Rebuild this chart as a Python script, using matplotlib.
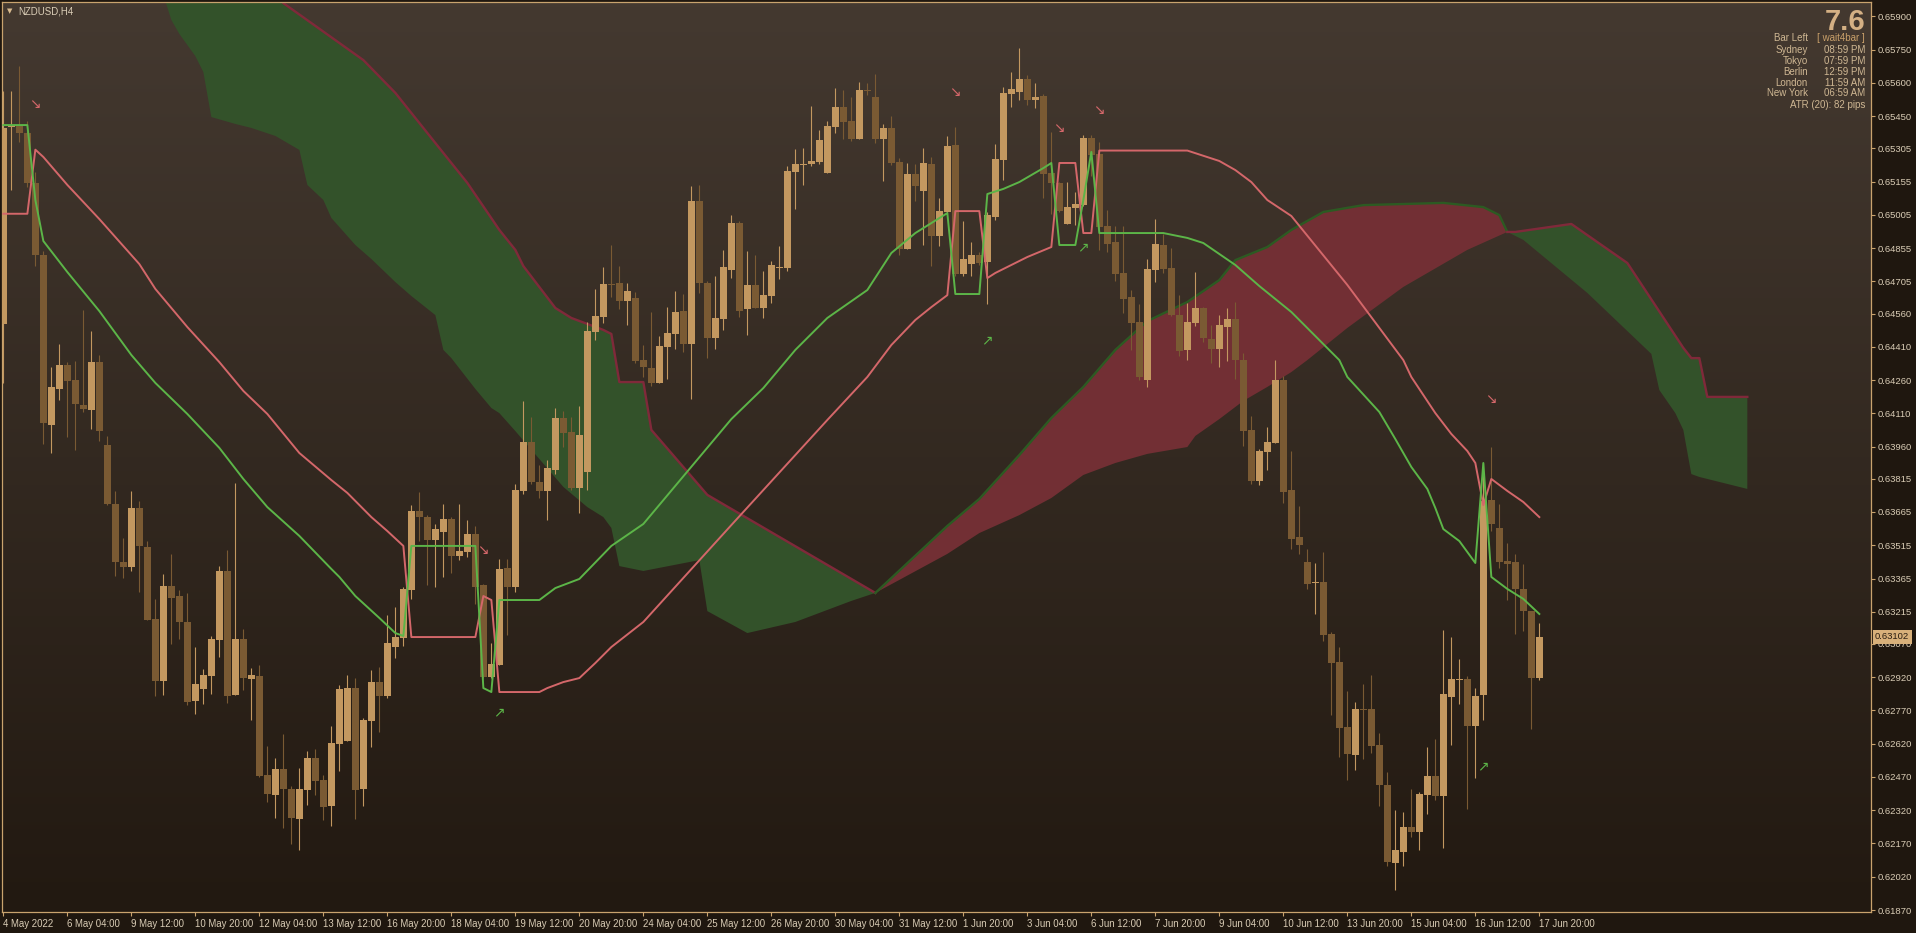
"""NZDUSD H4 chart: candles, Ichimoku cloud, trailing lines and a session panel."""
import matplotlib

matplotlib.use("Agg")
import matplotlib.pyplot as plt
import matplotlib.transforms as mtransforms
import numpy as np
from matplotlib.colors import LinearSegmentedColormap

plt.rcParams["font.family"] = ["Liberation Sans", "DejaVu Sans"]

W, H = 1916, 933

COLORS = {
    "panel": "#1f170f",
    "bg_top": "#443930",
    "bg_bottom": "#221911",
    "frame": "#c9a36e",
    "bull": "#c39860",
    "bear": "#7a5a33",
    "pink": "#d4676a",
    "green": "#5cb548",
    "cloud_green": "#33522a",
    "cloud_red": "#722f34",
    "edge_red": "#80293a",
    "edge_green": "#2c5a22",
    "text": "#dacdb6",
    "info": "#cfb793",
    "big": "#d4b084",
}

# ---- price bars (H4) ----
bar_open = [
    0.64513, 0.65401, 0.65410, 0.65374, 0.65149, 0.64824, 0.64057, 0.64220, 0.64328, 0.64260,
    0.64147, 0.64125, 0.64341, 0.63967, 0.63701, 0.63439, 0.63417, 0.63683, 0.63507, 0.63182,
    0.62903, 0.63331, 0.63286, 0.63169, 0.62813, 0.62867, 0.62925, 0.63088, 0.63399, 0.62840,
    0.63092, 0.62912, 0.62925, 0.62479, 0.62388, 0.62506, 0.62416, 0.62280, 0.62411, 0.62555,
    0.62456, 0.62339, 0.62619, 0.62632, 0.62871, 0.62416, 0.62722, 0.62898, 0.62835, 0.63056,
    0.63097, 0.63313, 0.63669, 0.63642, 0.63539, 0.63575, 0.63633, 0.63466, 0.63485, 0.63566,
    0.63336, 0.62921, 0.62975, 0.63412, 0.63327, 0.63760, 0.63981, 0.63800, 0.63760, 0.63854,
    0.64089, 0.64026, 0.63773, 0.63845, 0.64477, 0.64544, 0.64693, 0.64698, 0.64616, 0.64630,
    0.64350, 0.64314, 0.64247, 0.64409, 0.64468, 0.64571, 0.64423, 0.65068, 0.64698, 0.64450,
    0.64535, 0.64756, 0.64968, 0.64580, 0.64689, 0.64585, 0.64639, 0.64765, 0.64765, 0.65198,
    0.65230, 0.65234, 0.65243, 0.65194, 0.65401, 0.65491, 0.65428, 0.65347, 0.65568, 0.65537,
    0.65347, 0.65397, 0.65243, 0.64851, 0.65189, 0.65113, 0.65234, 0.64910, 0.65018, 0.65320,
    0.64738, 0.64783, 0.64824, 0.64792, 0.64995, 0.65252, 0.65550, 0.65559, 0.65618, 0.65523,
    0.65541, 0.65194, 0.65149, 0.64964, 0.65036, 0.65050, 0.65352, 0.65280, 0.64955, 0.64883,
    0.64743, 0.64635, 0.64522, 0.64260, 0.64756, 0.64869, 0.64765, 0.64553, 0.64396, 0.64517,
    0.64585, 0.64445, 0.64400, 0.64499, 0.64535, 0.64350, 0.64035, 0.63805, 0.63936, 0.63976,
    0.64260, 0.63764, 0.63552, 0.63439, 0.63345, 0.63349, 0.63115, 0.62988, 0.62695, 0.62569,
    0.62776, 0.62776, 0.62614, 0.62434, 0.62082, 0.62132, 0.62244, 0.62222, 0.62388, 0.62474,
    0.62384, 0.62831, 0.62907, 0.62912, 0.62700, 0.62840, 0.63719, 0.63593, 0.63444, 0.63439,
    0.63318, 0.63218, 0.62916,
]
bar_high = [
    0.65564, 0.65564, 0.65676, 0.65428, 0.65198, 0.64842, 0.64319, 0.64423, 0.64341, 0.64346,
    0.64576, 0.64481, 0.64373, 0.64008, 0.63760, 0.63548, 0.63760, 0.63715, 0.63534, 0.63273,
    0.63385, 0.63476, 0.63313, 0.63300, 0.63056, 0.62957, 0.63106, 0.63421, 0.63494, 0.63796,
    0.63137, 0.62961, 0.62975, 0.62610, 0.62555, 0.62664, 0.62429, 0.62510, 0.62587, 0.62596,
    0.62479, 0.62700, 0.62885, 0.62930, 0.62916, 0.62736, 0.62952, 0.62966, 0.63200, 0.63236,
    0.63327, 0.63696, 0.63755, 0.63651, 0.63611, 0.63701, 0.63642, 0.63701, 0.63629, 0.63602,
    0.63340, 0.63074, 0.63453, 0.63453, 0.63791, 0.64166, 0.64093, 0.63877, 0.63899, 0.64134,
    0.64120, 0.64093, 0.64143, 0.64522, 0.64671, 0.64770, 0.64869, 0.64774, 0.64698, 0.64657,
    0.64418, 0.64567, 0.64459, 0.64589, 0.64662, 0.64648, 0.65135, 0.65140, 0.64707, 0.64729,
    0.64847, 0.65004, 0.64977, 0.64842, 0.64824, 0.64752, 0.64797, 0.64864, 0.65225, 0.65302,
    0.65307, 0.65496, 0.65388, 0.65428, 0.65577, 0.65568, 0.65537, 0.65604, 0.65600, 0.65640,
    0.65415, 0.65451, 0.65261, 0.65239, 0.65234, 0.65307, 0.65266, 0.65081, 0.65361, 0.65401,
    0.64977, 0.64883, 0.64837, 0.65018, 0.65325, 0.65582, 0.65649, 0.65758, 0.65636, 0.65600,
    0.65550, 0.65379, 0.65153, 0.65153, 0.65108, 0.65365, 0.65365, 0.65334, 0.65027, 0.64955,
    0.64955, 0.64666, 0.64603, 0.64806, 0.64986, 0.64919, 0.64856, 0.64643, 0.64607, 0.64747,
    0.64589, 0.64508, 0.64553, 0.64585, 0.64612, 0.64382, 0.64098, 0.63949, 0.64048, 0.64350,
    0.64278, 0.63940, 0.63692, 0.63498, 0.63435, 0.63485, 0.63124, 0.63056, 0.62858, 0.62808,
    0.62889, 0.62930, 0.62668, 0.62492, 0.62321, 0.62312, 0.62416, 0.62402, 0.62605, 0.62641,
    0.63133, 0.63101, 0.63002, 0.62925, 0.62871, 0.63886, 0.63958, 0.63701, 0.63525, 0.63476,
    0.63430, 0.63220, 0.63164,
]
bar_low = [
    0.64247, 0.65117, 0.65334, 0.65131, 0.64774, 0.63972, 0.63931, 0.64170, 0.64003, 0.63944,
    0.64116, 0.64039, 0.63985, 0.63696, 0.63376, 0.63367, 0.63399, 0.63304, 0.63176, 0.62835,
    0.62840, 0.63070, 0.63092, 0.62795, 0.62754, 0.62799, 0.62844, 0.63011, 0.62804, 0.62838,
    0.62862, 0.62727, 0.62470, 0.62357, 0.62285, 0.62240, 0.62168, 0.62141, 0.62344, 0.62388,
    0.62276, 0.62249, 0.62497, 0.62630, 0.62280, 0.62339, 0.62605, 0.62673, 0.62826, 0.63006,
    0.63061, 0.63273, 0.63534, 0.63336, 0.63327, 0.63372, 0.63390, 0.63448, 0.63462, 0.63250,
    0.62916, 0.62916, 0.62973, 0.63110, 0.63304, 0.63746, 0.63791, 0.63728, 0.63629, 0.63836,
    0.63958, 0.63764, 0.63660, 0.63764, 0.64441, 0.64517, 0.64635, 0.64580, 0.64508, 0.64337,
    0.64274, 0.64233, 0.64245, 0.64265, 0.64400, 0.64387, 0.64175, 0.64653, 0.64359, 0.64400,
    0.64486, 0.64720, 0.64544, 0.64463, 0.64583, 0.64540, 0.64607, 0.64716, 0.64752, 0.65031,
    0.65140, 0.65225, 0.65234, 0.65192, 0.65374, 0.65347, 0.65338, 0.65345, 0.65546, 0.65329,
    0.65158, 0.65230, 0.64824, 0.64849, 0.65068, 0.64869, 0.64774, 0.64865, 0.65013, 0.64729,
    0.64729, 0.64729, 0.64779, 0.64603, 0.64982, 0.65162, 0.65491, 0.65523, 0.65500, 0.65487,
    0.65081, 0.65009, 0.65018, 0.64962, 0.64959, 0.65045, 0.65180, 0.64847, 0.64837, 0.64707,
    0.64562, 0.64396, 0.64260, 0.64229, 0.64702, 0.64743, 0.64551, 0.64368, 0.64350, 0.64504,
    0.64432, 0.64337, 0.64319, 0.64346, 0.64265, 0.63963, 0.63791, 0.63787, 0.63854, 0.63974,
    0.63706, 0.63498, 0.63476, 0.63318, 0.63205, 0.63083, 0.62749, 0.62560, 0.62456, 0.62501,
    0.62551, 0.62578, 0.62339, 0.62068, 0.61960, 0.62068, 0.62199, 0.62141, 0.62303, 0.62366,
    0.62150, 0.62614, 0.62799, 0.62325, 0.62465, 0.62727, 0.63579, 0.63412, 0.63268, 0.63115,
    0.63128, 0.62686, 0.62907,
]
bar_close = [
    0.65397, 0.65406, 0.65374, 0.65149, 0.64824, 0.64066, 0.64229, 0.64328, 0.64256, 0.64152,
    0.64129, 0.64341, 0.64030, 0.63701, 0.63439, 0.63417, 0.63683, 0.63512, 0.63178, 0.62903,
    0.63331, 0.63277, 0.63169, 0.62808, 0.62889, 0.62930, 0.63092, 0.63399, 0.62835, 0.63092,
    0.62916, 0.62930, 0.62474, 0.62393, 0.62506, 0.62416, 0.62285, 0.62416, 0.62555, 0.62452,
    0.62334, 0.62623, 0.62867, 0.62871, 0.62411, 0.62727, 0.62898, 0.62835, 0.63074, 0.63101,
    0.63318, 0.63669, 0.63642, 0.63539, 0.63588, 0.63633, 0.63466, 0.63489, 0.63566, 0.63327,
    0.62921, 0.62979, 0.63408, 0.63327, 0.63764, 0.63981, 0.63800, 0.63760, 0.63863, 0.64089,
    0.64021, 0.63773, 0.64012, 0.64481, 0.64549, 0.64693, 0.64689, 0.64616, 0.64662, 0.64346,
    0.64319, 0.64247, 0.64414, 0.64472, 0.64567, 0.64423, 0.65068, 0.64698, 0.64450, 0.64540,
    0.64770, 0.64968, 0.64571, 0.64689, 0.64585, 0.64643, 0.64779, 0.64770, 0.65203, 0.65234,
    0.65234, 0.65248, 0.65343, 0.65406, 0.65491, 0.65424, 0.65347, 0.65568, 0.65564, 0.65347,
    0.65397, 0.65239, 0.64851, 0.65189, 0.65135, 0.65239, 0.64910, 0.65022, 0.65316, 0.64738,
    0.64806, 0.64824, 0.64788, 0.65004, 0.65257, 0.65555, 0.65573, 0.65618, 0.65523, 0.65537,
    0.65189, 0.65149, 0.65022, 0.65040, 0.65054, 0.65352, 0.65275, 0.64950, 0.64874, 0.64738,
    0.64626, 0.64517, 0.64274, 0.64761, 0.64874, 0.64761, 0.64553, 0.64391, 0.64522, 0.64585,
    0.64450, 0.64400, 0.64508, 0.64535, 0.64350, 0.64030, 0.63805, 0.63940, 0.63981, 0.64260,
    0.63755, 0.63543, 0.63516, 0.63340, 0.63349, 0.63110, 0.62984, 0.62691, 0.62574, 0.62776,
    0.62772, 0.62610, 0.62434, 0.62086, 0.62141, 0.62244, 0.62222, 0.62393, 0.62474, 0.62384,
    0.62844, 0.62912, 0.62912, 0.62700, 0.62835, 0.63715, 0.63611, 0.63439, 0.63430, 0.63318,
    0.63218, 0.62916, 0.63102,
]

# ---- trailing lines (knots: bar index, price) ----
pink_bars = [0, 3, 4, 5, 8, 12, 17, 19, 23, 27, 30, 33, 37, 41, 43, 46, 48, 50, 51, 59,
             60, 61, 62, 67, 68, 70, 72, 74, 76, 80, 91, 103, 108, 111, 114, 116, 118, 119,
             122, 123, 124, 128, 131, 132, 134, 135, 136, 137, 148, 152, 154, 156, 158, 161,
             168, 175, 176, 179, 181, 183, 184, 185, 186, 188, 190, 192]
pink_prices = [0.65010, 0.65010, 0.65299, 0.65266, 0.65140, 0.64986, 0.64783, 0.64671,
               0.64499, 0.64341, 0.64211, 0.64107, 0.63931, 0.63809, 0.63751, 0.63642,
               0.63579, 0.63512, 0.63101, 0.63101, 0.63286, 0.63268, 0.62853, 0.62853,
               0.62871, 0.62898, 0.62916, 0.62984, 0.63056, 0.63169, 0.63606, 0.64080,
               0.64274, 0.64418, 0.64531, 0.64589, 0.64643, 0.65022, 0.65022, 0.64720,
               0.64743, 0.64815, 0.64860, 0.65239, 0.65239, 0.64923, 0.64923, 0.65295,
               0.65295, 0.65248, 0.65207, 0.65153, 0.65072, 0.65000, 0.64689, 0.64350,
               0.64274, 0.64111, 0.64017, 0.63940, 0.63886, 0.63696, 0.63814, 0.63760,
               0.63710, 0.63642]
green_bars = [0, 3, 4, 5, 8, 12, 16, 19, 23, 27, 30, 33, 37, 41, 42, 44, 47, 49, 50, 51,
              59, 60, 61, 62, 67, 69, 72, 76, 80, 91, 95, 99, 103, 108, 111, 114, 116, 118,
              119, 122, 123, 125, 127, 130, 131, 132, 134, 135, 136, 137, 145, 148, 150,
              154, 157, 161, 167, 168, 172, 174, 176, 178, 179, 180, 182, 184, 185, 186,
              188, 190, 192]
green_prices = [0.65410, 0.65410, 0.65072, 0.64887, 0.64747, 0.64571, 0.64373, 0.64247,
                0.64107, 0.63954, 0.63814, 0.63687, 0.63557, 0.63408, 0.63372, 0.63286,
                0.63187, 0.63119, 0.63106, 0.63512, 0.63512, 0.62871, 0.62853, 0.63268,
                0.63268, 0.63322, 0.63363, 0.63512, 0.63611, 0.64084, 0.64224, 0.64396,
                0.64540, 0.64666, 0.64833, 0.64923, 0.64968, 0.65013, 0.64648, 0.64648,
                0.65099, 0.65122, 0.65153, 0.65216, 0.65239, 0.64869, 0.64869, 0.65072,
                0.65289, 0.64923, 0.64923, 0.64901, 0.64878, 0.64779, 0.64684, 0.64567,
                0.64350, 0.64274, 0.64116, 0.63994, 0.63868, 0.63769, 0.63683, 0.63588,
                0.63534, 0.63435, 0.63886, 0.63372, 0.63318, 0.63273, 0.63205]

# ---- Ichimoku cloud, shifted 26 bars ahead (upper / lower edges) ----
cloud1_upper_bars = [20, 35, 45, 49, 54, 58, 62, 64, 65, 69, 71, 73, 75, 76, 77, 80, 81, 88, 109]
cloud1_upper = [0.66741, 0.65960, 0.65703, 0.65555, 0.65329, 0.65149, 0.64937, 0.64847,
                0.64774, 0.64585, 0.64540, 0.64513, 0.64486, 0.64468, 0.64251, 0.64251,
                0.64035, 0.63742, 0.63300]
cloud1_lower_bars = [20, 21, 22, 23, 24, 25, 26, 29, 31, 34, 37, 38, 40, 41, 44, 46, 49, 51,
                     54, 55, 56, 59, 61, 62, 64, 67, 70, 73, 75, 76, 77, 80, 87, 88, 93, 99,
                     106, 109]
cloud1_lower = [0.65997, 0.65884, 0.65821, 0.65771, 0.65721, 0.65649, 0.65446, 0.65415,
                0.65397, 0.65361, 0.65298, 0.65140, 0.65072, 0.64991, 0.64869, 0.64806,
                0.64702, 0.64639, 0.64553, 0.64396, 0.64359, 0.64220, 0.64134, 0.64111,
                0.64030, 0.63904, 0.63778, 0.63687, 0.63642, 0.63593, 0.63421, 0.63399,
                0.63448, 0.63218, 0.63119, 0.63169, 0.63264, 0.63300]
cloud2_upper_bars = [109, 118, 122, 127, 131, 135, 139, 143, 148, 152, 154, 158, 161, 165,
                     170, 180, 185, 187, 188]
cloud2_upper = [0.63300, 0.63602, 0.63724, 0.63922, 0.64089, 0.64229, 0.64396, 0.64526,
                0.64612, 0.64711, 0.64801, 0.64860, 0.64937, 0.65018, 0.65049, 0.65059,
                0.65040, 0.65004, 0.64928]
cloud2_lower_bars = [109, 118, 122, 127, 131, 135, 139, 143, 148, 149, 152, 155, 158, 161,
                     163, 168, 175, 183, 188]
cloud2_lower = [0.63300, 0.63476, 0.63570, 0.63651, 0.63728, 0.63832, 0.63886, 0.63927,
                0.63958, 0.64008, 0.64084, 0.64166, 0.64229, 0.64296, 0.64350, 0.64495,
                0.64680, 0.64847, 0.64928]
cloud3_upper_bars = [188, 189, 196, 203, 210, 211, 212, 213, 218]
cloud3_upper = [0.64928, 0.64928, 0.64964, 0.64788, 0.64405, 0.64359, 0.64359, 0.64184, 0.64184]
cloud3_lower_bars = [188, 190, 198, 206, 207, 209, 210, 211, 212, 216, 218]
cloud3_lower = [0.64928, 0.64892, 0.64653, 0.64378, 0.64215, 0.64111, 0.64035, 0.63836,
                0.63823, 0.63787, 0.63769]

# ---- signal arrows ----
sell_bars = [4, 60, 119, 132, 137, 186]
sell_prices = [0.65505, 0.63494, 0.65560, 0.65395, 0.65477, 0.64176]
buy_bars = [62, 123, 135, 185]
buy_prices = [0.62763, 0.64438, 0.64857, 0.62518]

# ---- axes labels ----
time_tick_bars = list(range(0, 193, 8))
time_tick_labels = [
    "4 May 2022", "6 May 04:00", "9 May 12:00", "10 May 20:00", "12 May 04:00",
    "13 May 12:00", "16 May 20:00", "18 May 04:00", "19 May 12:00", "20 May 20:00",
    "24 May 04:00", "25 May 12:00", "26 May 20:00", "30 May 04:00", "31 May 12:00",
    "1 Jun 20:00", "3 Jun 04:00", "6 Jun 12:00", "7 Jun 20:00", "9 Jun 04:00",
    "10 Jun 12:00", "13 Jun 20:00", "15 Jun 04:00", "16 Jun 12:00", "17 Jun 20:00",
]
price_tick_labels = [
    "0.65900", "0.65750", "0.65600", "0.65450", "0.65305", "0.65155", "0.65005",
    "0.64855", "0.64705", "0.64560", "0.64410", "0.64260", "0.64110", "0.63960",
    "0.63815", "0.63665", "0.63515", "0.63365", "0.63215", "0.63070", "0.62920",
    "0.62770", "0.62620", "0.62470", "0.62320", "0.62170", "0.62020", "0.61870",
]
last_price = 0.63102

symbol = "NZDUSD,H4"
spread = "7.6"
session_names = ["Bar Left", "Sydney", "Tokyo", "Berlin", "London", "New York"]
session_values = ["[ wait4bar ]", "08:59 PM", "07:59 PM", "12:59 PM", "11:59 AM", "06:59 AM"]
atr_text = "ATR (20): 82 pips"


def fig_xy(x, y):
    """Pixel position in the 1916x933 canvas -> figure fraction."""
    return x / W, 1 - y / H


def draw_background(ax):
    cmap = LinearSegmentedColormap.from_list("bg", [COLORS["bg_top"], COLORS["bg_bottom"]])
    x0, x1 = ax.get_xlim()
    y0, y1 = ax.get_ylim()
    ax.imshow(np.linspace(0, 1, 256)[:, None], extent=(x0, x1, y0, y1), origin="upper",
              aspect="auto", cmap=cmap, zorder=0, interpolation="bilinear")


def draw_cloud(ax, up_x, up_y, lo_x, lo_y, fill, edge):
    xs = np.concatenate([up_x, lo_x[::-1]])
    ys = np.concatenate([up_y, lo_y[::-1]])
    ax.fill(xs, ys, color=fill, linewidth=0, zorder=1)
    ax.plot(up_x, up_y, color=edge, linewidth=1.7, zorder=1.5)


def draw_candles(ax):
    o = np.array(bar_open)
    h = np.array(bar_high)
    lo = np.array(bar_low)
    c = np.array(bar_close)
    x = np.arange(len(o))
    colors = np.where(c >= o, COLORS["bull"], COLORS["bear"])
    ax.vlines(x, lo, h, colors=colors, linewidth=0.8, zorder=3)
    bottom = np.minimum(o, c)
    height = np.maximum(np.abs(c - o), 0.00003)
    ax.bar(x, height, bottom=bottom, width=0.84, color=colors, linewidth=0, zorder=3.1)


def main():
    fig = plt.figure(figsize=(W / 100, H / 100), dpi=100, facecolor=COLORS["panel"])
    ax = fig.add_axes([2 / W, 21 / H, 1869 / W, 910 / H])
    ax.set_xlim(-0.17, 233.46)
    ax.set_ylim(0.61861, 0.65965)
    draw_background(ax)

    draw_cloud(ax, np.array(cloud1_upper_bars), np.array(cloud1_upper),
               np.array(cloud1_lower_bars), np.array(cloud1_lower),
               COLORS["cloud_green"], COLORS["edge_red"])
    draw_cloud(ax, np.array(cloud2_upper_bars), np.array(cloud2_upper),
               np.array(cloud2_lower_bars), np.array(cloud2_lower),
               COLORS["cloud_red"], COLORS["edge_green"])
    draw_cloud(ax, np.array(cloud3_upper_bars), np.array(cloud3_upper),
               np.array(cloud3_lower_bars), np.array(cloud3_lower),
               COLORS["cloud_green"], COLORS["edge_red"])

    draw_candles(ax)

    ax.plot(pink_bars, pink_prices, color=COLORS["pink"], linewidth=1.4, zorder=4)
    ax.plot(green_bars, green_prices, color=COLORS["green"], linewidth=1.4, zorder=4)

    for b, p in zip(sell_bars, sell_prices):
        ax.text(b, p, "\u2198", color=COLORS["pink"], fontsize=10, ha="center", va="center",
                family="DejaVu Sans", zorder=5)
    for b, p in zip(buy_bars, buy_prices):
        ax.text(b, p, "\u2197", color=COLORS["green"], fontsize=10, ha="center", va="center",
                family="DejaVu Sans", zorder=5)

    # axes frame and ticks
    for spine in ax.spines.values():
        spine.set_color(COLORS["frame"])
        spine.set_linewidth(0.9)
    ax.yaxis.tick_right()
    ax.set_yticks([float(v) for v in price_tick_labels], price_tick_labels)
    ax.set_xticks(time_tick_bars, time_tick_labels)
    ax.tick_params(axis="y", right=True, left=False, length=3, width=0.8, pad=2,
                   colors=COLORS["frame"], labelcolor=COLORS["text"], labelsize=6.8)
    ax.tick_params(axis="x", length=3, width=0.8, pad=2, colors=COLORS["frame"],
                   labelcolor=COLORS["text"], labelsize=6.9)
    for lbl in ax.get_xticklabels():
        lbl.set_horizontalalignment("left")

    # last price marker on the price scale
    trans = mtransforms.blended_transform_factory(ax.transAxes, ax.transData)
    ax.text(1 + 4 / 1869, last_price, f"{last_price:.5f}", transform=trans, ha="left",
            va="center", fontsize=6.8, color="#2a1d10", zorder=10, clip_on=False,
            bbox=dict(boxstyle="square,pad=0.25", fc="#d8b07a", ec="none"))

    # symbol caption
    fig.text(*fig_xy(9.7, 11), "\u25bc", fontsize=5, color="#d9bb8f", ha="center",
             va="center", family="DejaVu Sans")
    fig.text(*fig_xy(18, 11), symbol, fontsize=7, color=COLORS["text"], ha="left",
             va="center")

    # session / spread panel
    fig.text(*fig_xy(1865, 30), spread, fontsize=21, fontweight="bold", color=COLORS["big"],
             ha="right", va="baseline")
    row_y = [38.3, 50, 61, 71.7, 82.7, 93.3]
    for y, name, value in zip(row_y, session_names, session_values):
        fig.text(*fig_xy(1808, y), name, fontsize=7, color=COLORS["info"], ha="right",
                 va="center")
        fig.text(*fig_xy(1865, y), value, fontsize=7,
                 color="#c9a06a" if value.startswith("[") else COLORS["info"],
                 ha="right", va="center")
    fig.text(*fig_xy(1865, 105), atr_text, fontsize=7, color=COLORS["info"], ha="right",
             va="center")

    fig.savefig("out.png", dpi=100, facecolor=fig.get_facecolor())
    plt.close(fig)


if __name__ == "__main__":
    main()
